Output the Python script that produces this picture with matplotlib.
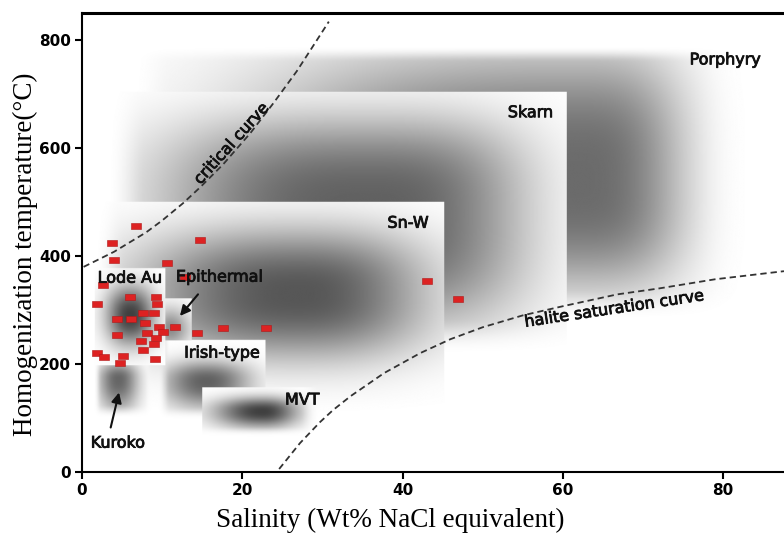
import numpy as np
import matplotlib
matplotlib.use('Agg')
import matplotlib.pyplot as plt
import matplotlib.patheffects as pe
from matplotlib.path import Path

# deposit fields (salinity wt% NaCl eq., homogenization temperature degC)
deposit_names = ['Porphyry', 'Skarn', 'Sn-W', 'Irish-type', 'MVT', 'Kuroko', 'Lode Au', 'Epithermal']
sal_min = [6.0, 3.0, 1.5, 9.5, 15.0, 1.4, 1.6, 10.4]
sal_max = [88.0, 60.5, 45.2, 22.9, 29.7, 8.7, 10.4, 13.7]
temp_min = [280, 215, 90, 96, 64, 100, 198, 244]
temp_max = [790, 705, 501, 245, 157, 198, 378, 322]
sal_peak = [62.0, 36.0, 27.0, 15.5, 22.5, 4.5, 6.0, 11.0]
temp_peak = [540, 480, 330, 168, 112, 172, 290, 265]

# fluid inclusion measurements (red squares)
incl_sal = [6.74, 3.79, 14.7, 4.04, 10.65, 12.86, 2.66, 5.99, 9.24, 1.91, 9.4, 7.65, 8.99,
            4.41, 6.12, 7.91, 11.61, 9.57, 10.15, 8.07, 4.41, 14.4, 17.56, 22.9, 9.24,
            7.33, 8.99, 7.65, 1.91, 2.75, 5.16, 9.15, 4.70, 43.0, 46.9]
incl_temp = [455, 424, 430, 393, 388, 362, 346, 325, 325, 311, 311, 294, 294,
             283, 283, 275, 269, 269, 260, 258, 254, 257, 266, 266, 248,
             243, 236, 226, 221, 212, 215, 209, 201, 354, 320]

# phase boundaries
crit_sal = [0.2, 4.0, 8.0, 10.0, 12.6, 14.7, 17.6, 21.0, 23.9, 26.8, 28.5, 30.8]
crit_temp = [380, 408, 444, 466, 498, 527, 570, 628, 684, 743, 782, 835]
halite_sal = [24.6, 27.2, 29.7, 31.3, 33.5, 37.7, 42.2, 46.0, 50.0, 55.0, 60.0, 66.8, 72.0, 79.0, 87.6]
halite_temp = [5, 53, 92, 114, 140, 183, 220, 246, 268, 290, 307, 329, 340, 357, 372]

x_ticks = [0, 20, 40, 60, 80]
y_ticks = [0, 200, 400, 600, 800]

shade = {
    'Porphyry':   dict(dark=0.58, sx=(40, 13), sy=(200, 240), p=3.0, soft=(5, 12, 60, 30)),
    'Skarn':      dict(dark=0.62, sx=(26, 19), sy=(210, 175), p=3.0, soft=(5, 0, 70, 0)),
    'Sn-W':       dict(dark=0.66, sx=(20, 16), sy=(120, 120), p=2.5, soft=(4, 0, 50, 0)),
    'Irish-type': dict(dark=0.62, sx=(5.5, 5.5), sy=(50, 38), p=2.2, soft=(1.5, 0, 25, 0)),
    'MVT':        dict(dark=0.75, sx=(6, 4.5), sy=(30, 26), p=2.2, soft=(0, 2.5, 20, 0)),
    'Kuroko':     dict(dark=0.60, sx=(2.5, 2.5), sy=(60, 32), p=2.2, soft=(1, 1, 25, 0)),
    'Lode Au':    dict(dark=0.75, sx=(3.0, 3.0), sy=(55, 55), p=2.2, soft=(0, 0, 0, 0)),
    'Epithermal': dict(dark=0.45, sx=(2, 2.5), sy=(35, 40), p=2.0, soft=(0, 0, 0, 0)),
}


def profile(v, c, s_lo, s_hi, p):
    s = np.where(v < c, s_lo, s_hi)
    return np.exp(-np.abs((v - c) / s) ** p)


def edge(d, w):
    if w <= 0:
        return (d >= 0).astype(float)
    t = np.clip(d / w, 0, 1)
    return t * t * (3 - 2 * t)


xmax, ymax = 87.6, 851
xs = np.linspace(0, xmax, 876)
ys = np.linspace(0, ymax, 851)
X, Y = np.meshgrid(xs, ys)
canvas = np.ones_like(X)
for i, name in enumerate(deposit_names):
    st = shade[name]
    fl, fr, fb, ft = st['soft']
    a = (edge(X - sal_min[i], fl) * edge(sal_max[i] - X, fr)
         * edge(Y - temp_min[i], fb) * edge(temp_max[i] - Y, ft))
    d = (st['dark'] * profile(X, sal_peak[i], *st['sx'], st['p'])
         * profile(Y, temp_peak[i], *st['sy'], st['p']))
    canvas = canvas * (1 - a) + (1 - d) * a

fig = plt.figure(figsize=(7.84, 5.38), dpi=100)
ax = fig.add_axes([82 / 784, 66.3 / 538, 702 / 784, 458.7 / 538])
ax.imshow(canvas, extent=[0, xmax, 0, ymax], origin='lower', cmap='gray',
          vmin=0, vmax=1, aspect='auto', interpolation='bilinear', zorder=0)

ax.plot(crit_sal, crit_temp, ls=(0, (3.5, 2.2)), color='#333333', lw=1.3, zorder=2)
ax.plot(halite_sal, halite_temp, ls=(0, (3.5, 2.2)), color='#333333', lw=1.3, zorder=2)

rect = Path([(-1, -0.65), (1, -0.65), (1, 0.65), (-1, 0.65), (-1, -0.65)])
ax.plot(incl_sal, incl_temp, ls='none', marker=rect, ms=6.5, color='#dd2222',
        mec='#b01818', mew=0.4, zorder=3)

thick = [pe.withStroke(linewidth=0.6, foreground='#111111')]
lab = dict(fontsize=11.5, family='DejaVu Sans', color='#111111', ha='center', va='center',
           zorder=4, path_effects=thick)
ax.text(80.3, 764, 'Porphyry', **lab)
ax.text(56.0, 666, 'Skarn', **lab)
ax.text(40.7, 461, 'Sn-W', **lab)
ax.text(6.0, 359, 'Lode Au', **lab)
ax.text(17.2, 361, 'Epithermal', **lab)
ax.text(17.5, 220, 'Irish-type', **lab)
ax.text(27.5, 133, 'MVT', **lab)
ax.text(4.5, 53, 'Kuroko', **lab)
ax.text(18.7, 609, 'critical curve', rotation=48, rotation_mode='anchor', **lab)
ax.text(66.5, 302, 'halite saturation curve', rotation=8.5, rotation_mode='anchor', **lab)

arr = dict(arrowstyle='-|>,head_width=0.3,head_length=0.6', color='#111111', lw=1.5)
ax.annotate('', xy=(12.0, 285), xytext=(14.7, 333), arrowprops=arr, zorder=4)
ax.annotate('', xy=(4.7, 152), xytext=(3.5, 77), arrowprops=arr, zorder=4)

ax.set_xlim(0, xmax)
ax.set_ylim(0, ymax)
ax.set_xticks(x_ticks)
ax.set_yticks(y_ticks)
ax.set_xticklabels([str(v) for v in x_ticks], family='DejaVu Sans', fontweight='bold', fontsize=11)
ax.set_yticklabels([str(v) for v in y_ticks], family='DejaVu Sans', fontweight='bold', fontsize=11)
ax.tick_params(direction='out', length=5, width=1.5, pad=3)
ax.spines['right'].set_visible(False)
ax.spines['top'].set_linewidth(2.2)
ax.spines['left'].set_linewidth(1.5)
ax.spines['bottom'].set_linewidth(1.5)

ax.set_xlabel('Salinity (Wt% NaCl equivalent)', family='Liberation Serif', fontsize=19.5)
ax.set_ylabel('Homogenization temperature(°C)', family='Liberation Serif', fontsize=19.5)
ax.xaxis.set_label_coords(0.4387, -0.079)
ax.yaxis.set_label_coords(-0.063, 0.475)

fig.savefig('out.png', dpi=100)
